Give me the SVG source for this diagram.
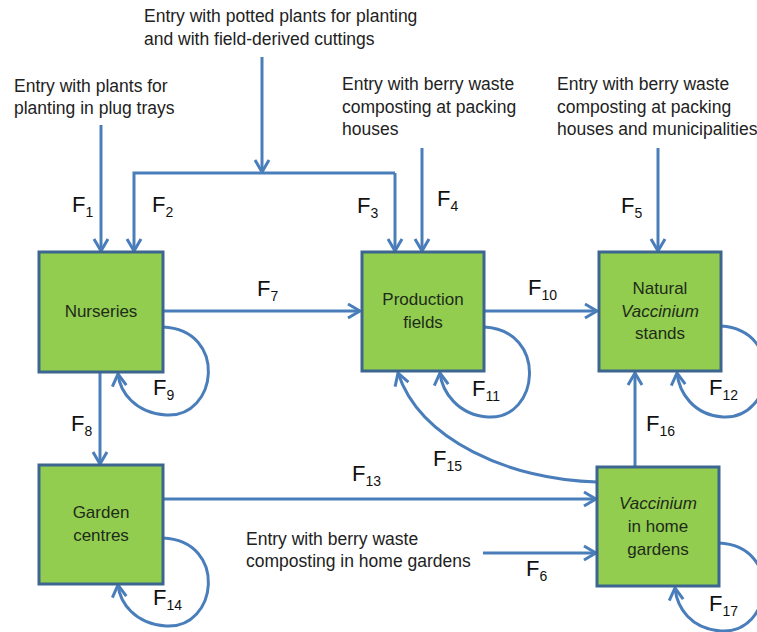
<svg xmlns="http://www.w3.org/2000/svg" width="757" height="632" viewBox="0 0 757 632">
<defs>
<style>
.box{fill:#92CD4F;stroke:#3C6590;stroke-width:3}
.lbl{font-family:"Liberation Sans",Arial,sans-serif;font-size:17px;fill:#1E2B1A;text-anchor:middle}
.ent{font-family:"Liberation Sans",Arial,sans-serif;font-size:17.5px;fill:#222}
.f{font-family:"Liberation Sans",Arial,sans-serif;font-size:22px;fill:#111}
.sub{font-size:14px}
.c{fill:none;stroke:#4A7EBB;stroke-width:3}
.a{marker-end:url(#arr)}
</style>
<marker id="arr" viewBox="-14 -9 16 18" refX="0" refY="0" markerWidth="16" markerHeight="18" markerUnits="userSpaceOnUse" orient="auto">
<path d="M-12,-7 L0,0 L-12,7" fill="none" stroke="#4A7EBB" stroke-width="3"/>
</marker>
</defs>
<rect width="757" height="632" fill="#fff"/>
<g id="connectors">
<path class="c a" d="M101,125 V251"/>
<path class="c a" d="M262,57 V172"/>
<path class="c a" d="M395,173 H134 V251"/>
<path class="c a" d="M395,173 V251"/>
<path class="c a" d="M422,148 V251"/>
<path class="c a" d="M658,148 V251"/>
<path class="c a" d="M163,311 H360"/>
<path class="c a" d="M484,311 H597"/>
<path class="c a" d="M163,327 C228,330 218,418 166,415 C135,413 120,392 118,374"/>
<path class="c a" d="M484,327 C548,330 540,420 488,417 C458,415 442,392 440,373"/>
<path class="c a" d="M721,326 C785,330 775,420 723,417 C693,415 679,392 677,373"/>
<path class="c a" d="M100,372 V464"/>
<path class="c a" d="M635,467 V373"/>
<path class="c a" d="M597,482 C510,480 420,440 398,373"/>
<path class="c a" d="M163,499 H596"/>
<path class="c a" d="M483,553 H596"/>
<path class="c a" d="M163,538 C228,541 218,629 166,626 C135,624 120,603 118,585"/>
<path class="c a" d="M719,543 C783,546 773,634 721,631 C691,629 677,608 675,588"/>
</g>
<g id="nurseries">
<rect class="box" x="39" y="252" width="124" height="120"/>
<text class="lbl" x="101" y="317">Nurseries</text>
</g>
<g id="production-fields">
<rect class="box" x="362" y="252" width="122" height="119"/>
<text class="lbl" x="423" y="305">Production</text>
<text class="lbl" x="423" y="328">fields</text>
</g>
<g id="natural-stands">
<rect class="box" x="599" y="252" width="122" height="119"/>
<text class="lbl" x="660" y="294">Natural</text>
<text class="lbl" x="660" y="317" font-style="italic">Vaccinium</text>
<text class="lbl" x="660" y="339">stands</text>
</g>
<g id="garden-centres">
<rect class="box" x="39" y="465" width="124" height="119"/>
<text class="lbl" x="101" y="518">Garden</text>
<text class="lbl" x="101" y="541">centres</text>
</g>
<g id="home-gardens">
<rect class="box" x="597" y="467" width="122" height="119"/>
<text class="lbl" x="658" y="509" font-style="italic">Vaccinium</text>
<text class="lbl" x="658" y="532">in home</text>
<text class="lbl" x="658" y="555">gardens</text>
</g>
<g id="entries">
<text class="ent" x="144" y="22">Entry with potted plants for planting</text>
<text class="ent" x="144" y="45">and with field-derived cuttings</text>
<text class="ent" x="14" y="92">Entry with plants for</text>
<text class="ent" x="14" y="114">planting in plug trays</text>
<text class="ent" x="342" y="90">Entry with berry waste</text>
<text class="ent" x="342" y="113">composting at packing</text>
<text class="ent" x="342" y="135">houses</text>
<text class="ent" x="557" y="90">Entry with berry waste</text>
<text class="ent" x="557" y="113">composting at packing</text>
<text class="ent" x="557" y="135">houses and municipalities</text>
<text class="ent" x="246" y="545">Entry with berry waste</text>
<text class="ent" x="246" y="567">composting in home gardens</text>
</g>
<g id="flow-labels">
<text class="f" x="72" y="212">F<tspan class="sub" dy="5">1</tspan></text>
<text class="f" x="152" y="212">F<tspan class="sub" dy="5">2</tspan></text>
<text class="f" x="357" y="213">F<tspan class="sub" dy="5">3</tspan></text>
<text class="f" x="437" y="206">F<tspan class="sub" dy="5">4</tspan></text>
<text class="f" x="621" y="213">F<tspan class="sub" dy="5">5</tspan></text>
<text class="f" x="526" y="576">F<tspan class="sub" dy="5">6</tspan></text>
<text class="f" x="257" y="296">F<tspan class="sub" dy="5">7</tspan></text>
<text class="f" x="71" y="431">F<tspan class="sub" dy="5">8</tspan></text>
<text class="f" x="153" y="395">F<tspan class="sub" dy="5">9</tspan></text>
<text class="f" x="528" y="295">F<tspan class="sub" dy="5">10</tspan></text>
<text class="f" x="472" y="396">F<tspan class="sub" dy="5">11</tspan></text>
<text class="f" x="709" y="395">F<tspan class="sub" dy="5">12</tspan></text>
<text class="f" x="352" y="481">F<tspan class="sub" dy="5">13</tspan></text>
<text class="f" x="153" y="605">F<tspan class="sub" dy="5">14</tspan></text>
<text class="f" x="433" y="466">F<tspan class="sub" dy="5">15</tspan></text>
<text class="f" x="646" y="431">F<tspan class="sub" dy="5">16</tspan></text>
<text class="f" x="709" y="611">F<tspan class="sub" dy="5">17</tspan></text>
</g>
</svg>
